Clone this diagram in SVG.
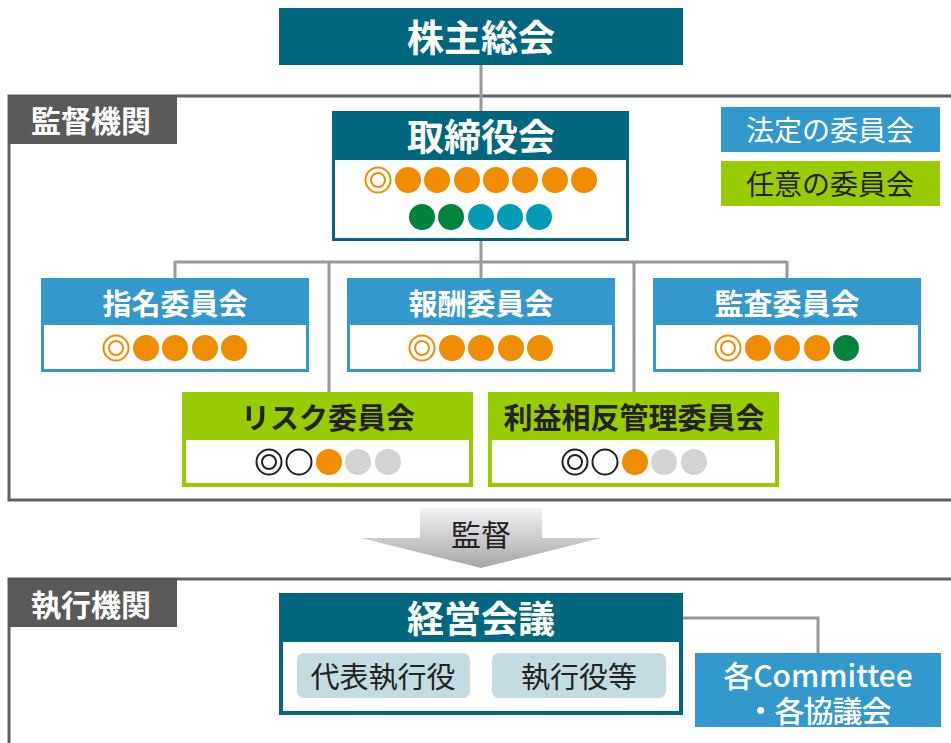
<svg xmlns="http://www.w3.org/2000/svg" width="951" height="743" viewBox="0 0 951 743">
<defs>
<linearGradient id="arrowGrad" x1="0" y1="0" x2="0" y2="1">
<stop offset="0" stop-color="#f2f2f2"/>
<stop offset="1" stop-color="#a6a6a6"/>
</linearGradient>
<style>
text{font-family:"Noto Sans CJK JP","Noto Sans",sans-serif;text-anchor:middle;dominant-baseline:central}
.frame{fill:none;stroke:#606060;stroke-width:3}
.conn{fill:none;stroke:#999999;stroke-width:3}
.teal{fill:#00677f}
.blue{fill:#3399cc}
.green{fill:#99cc00}
.white{fill:#ffffff}
.lbl{fill:#595959}
.hw{fill:#ffffff;font-weight:bold}
.hd{fill:#222222;font-weight:bold}
.big{font-size:37px}
.mid{font-size:29px}
.o{fill:#ef8c00}
.g{fill:#00843d}
.c{fill:#009bb5}
.s{fill:#d3d3d3}
.ring{fill:none;stroke:#ef8c00;stroke-width:2}
.kring{fill:none;stroke:#222222;stroke-width:2}
</style>
</defs>

<g id="frames">
<path class="frame" d="M951,96 H9 V500 H951"/>
<path class="frame" d="M951,579 H9 V743"/>
</g>

<g id="connectors">
<line class="conn" x1="481" y1="65" x2="481" y2="111"/>
<line class="conn" x1="481" y1="241" x2="481" y2="278"/>
<line class="conn" x1="175" y1="262" x2="787" y2="262"/>
<line class="conn" x1="175" y1="261" x2="175" y2="278"/>
<line class="conn" x1="329" y1="261" x2="329" y2="392"/>
<line class="conn" x1="634" y1="261" x2="634" y2="392"/>
<line class="conn" x1="787" y1="261" x2="787" y2="278"/>
<path class="conn" d="M683,618 H818 V653"/>
</g>

<g id="label-kantoku">
<rect class="lbl" x="8" y="95" width="169" height="49"/>
<text class="hw" font-size="30" x="91" y="119">監督機関</text>
</g>

<g id="label-shikkou">
<rect class="lbl" x="8" y="578" width="169" height="49"/>
<text class="hw" font-size="30" x="91" y="603">執行機関</text>
</g>

<g id="kabunushi">
<rect class="teal" x="279" y="8" width="404" height="57"/>
<text class="hw big" x="481" y="36">株主総会</text>
</g>

<g id="torishimariyaku">
<rect class="teal" x="332" y="111" width="297" height="130"/>
<rect class="white" x="335" y="160" width="291" height="78"/>
<text class="hw big" x="481" y="135">取締役会</text>
<circle class="ring" cx="378" cy="180" r="12.5"/><circle class="ring" cx="378" cy="180" r="7"/>
<circle class="o" cx="408" cy="180" r="13"/>
<circle class="o" cx="437" cy="180" r="13"/>
<circle class="o" cx="467" cy="180" r="13"/>
<circle class="o" cx="496" cy="180" r="13"/>
<circle class="o" cx="525" cy="180" r="13"/>
<circle class="o" cx="555" cy="180" r="13"/>
<circle class="o" cx="584" cy="180" r="13"/>
<circle class="g" cx="422" cy="217" r="13"/>
<circle class="g" cx="451" cy="217" r="13"/>
<circle class="c" cx="481" cy="217" r="13"/>
<circle class="c" cx="510" cy="217" r="13"/>
<circle class="c" cx="539" cy="217" r="13"/>
</g>

<g id="shimei">
<rect class="blue" x="41" y="278" width="268" height="94"/>
<rect class="white" x="44" y="325" width="262" height="44"/>
<text class="hw mid" x="175" y="302">指名委員会</text>
<circle class="ring" cx="116" cy="348" r="12.5"/><circle class="ring" cx="116" cy="348" r="7"/>
<circle class="o" cx="146" cy="348" r="13"/>
<circle class="o" cx="175" cy="348" r="13"/>
<circle class="o" cx="205" cy="348" r="13"/>
<circle class="o" cx="234" cy="348" r="13"/>
</g>

<g id="houshu">
<rect class="blue" x="347" y="278" width="268" height="94"/>
<rect class="white" x="350" y="325" width="262" height="44"/>
<text class="hw mid" x="481" y="302">報酬委員会</text>
<circle class="ring" cx="422" cy="348" r="12.5"/><circle class="ring" cx="422" cy="348" r="7"/>
<circle class="o" cx="452" cy="348" r="13"/>
<circle class="o" cx="481" cy="348" r="13"/>
<circle class="o" cx="511" cy="348" r="13"/>
<circle class="o" cx="540" cy="348" r="13"/>
</g>

<g id="kansa">
<rect class="blue" x="653" y="278" width="268" height="94"/>
<rect class="white" x="656" y="325" width="262" height="44"/>
<text class="hw mid" x="787" y="302">監査委員会</text>
<circle class="ring" cx="728" cy="348" r="12.5"/><circle class="ring" cx="728" cy="348" r="7"/>
<circle class="o" cx="758" cy="348" r="13"/>
<circle class="o" cx="787" cy="348" r="13"/>
<circle class="o" cx="817" cy="348" r="13"/>
<circle class="g" cx="846" cy="348" r="13"/>
</g>

<g id="risk">
<rect class="green" x="182" y="392" width="291" height="95"/>
<rect class="white" x="186" y="440" width="283" height="43"/>
<text class="hd mid" x="328" y="416">リスク委員会</text>
<circle class="kring" cx="269" cy="462" r="12.5"/><circle class="kring" cx="269" cy="462" r="7"/>
<circle class="kring" cx="299" cy="462" r="12.5"/>
<circle class="o" cx="329" cy="462" r="13"/>
<circle class="s" cx="358" cy="462" r="13"/>
<circle class="s" cx="388" cy="462" r="13"/>
</g>

<g id="rieki">
<rect class="green" x="488" y="392" width="291" height="95"/>
<rect class="white" x="492" y="440" width="283" height="43"/>
<text class="hd mid" x="634" y="416">利益相反管理委員会</text>
<circle class="kring" cx="575" cy="462" r="12.5"/><circle class="kring" cx="575" cy="462" r="7"/>
<circle class="kring" cx="605" cy="462" r="12.5"/>
<circle class="o" cx="635" cy="462" r="13"/>
<circle class="s" cx="664" cy="462" r="13"/>
<circle class="s" cx="694" cy="462" r="13"/>
</g>

<g id="legend">
<rect class="blue" x="721" y="107" width="219" height="45"/>
<text x="830" y="129" font-size="28" fill="#ffffff">法定の委員会</text>
<rect class="green" x="721" y="161" width="219" height="45"/>
<text x="830" y="183" font-size="28" fill="#222222">任意の委員会</text>
</g>

<g id="kantoku-arrow">
<path d="M420,508 H542 V538 H601 L481,568 L361,538 H420 Z" fill="url(#arrowGrad)"/>
<text x="481" y="533" font-size="30" fill="#222222">監督</text>
</g>

<g id="keiei">
<rect class="teal" x="279" y="593" width="404" height="122"/>
<rect class="white" x="283" y="642" width="396" height="69"/>
<text class="hw big" x="481" y="617">経営会議</text>
<rect x="297" y="653" width="173" height="45" rx="7" fill="#c2dce1"/>
<text x="383" y="675" font-size="29" fill="#222222">代表執行役</text>
<rect x="492" y="653" width="174" height="45" rx="7" fill="#c2dce1"/>
<text x="579" y="675" font-size="29" fill="#222222">執行役等</text>
</g>

<g id="committee">
<rect class="blue" x="695" y="653" width="246" height="74"/>
<text font-size="30" font-weight="500" fill="#ffffff"><tspan x="818" y="674">各Committee</tspan><tspan x="818" y="709" letter-spacing="-1">・各協議会</tspan></text>
</g>
</svg>
